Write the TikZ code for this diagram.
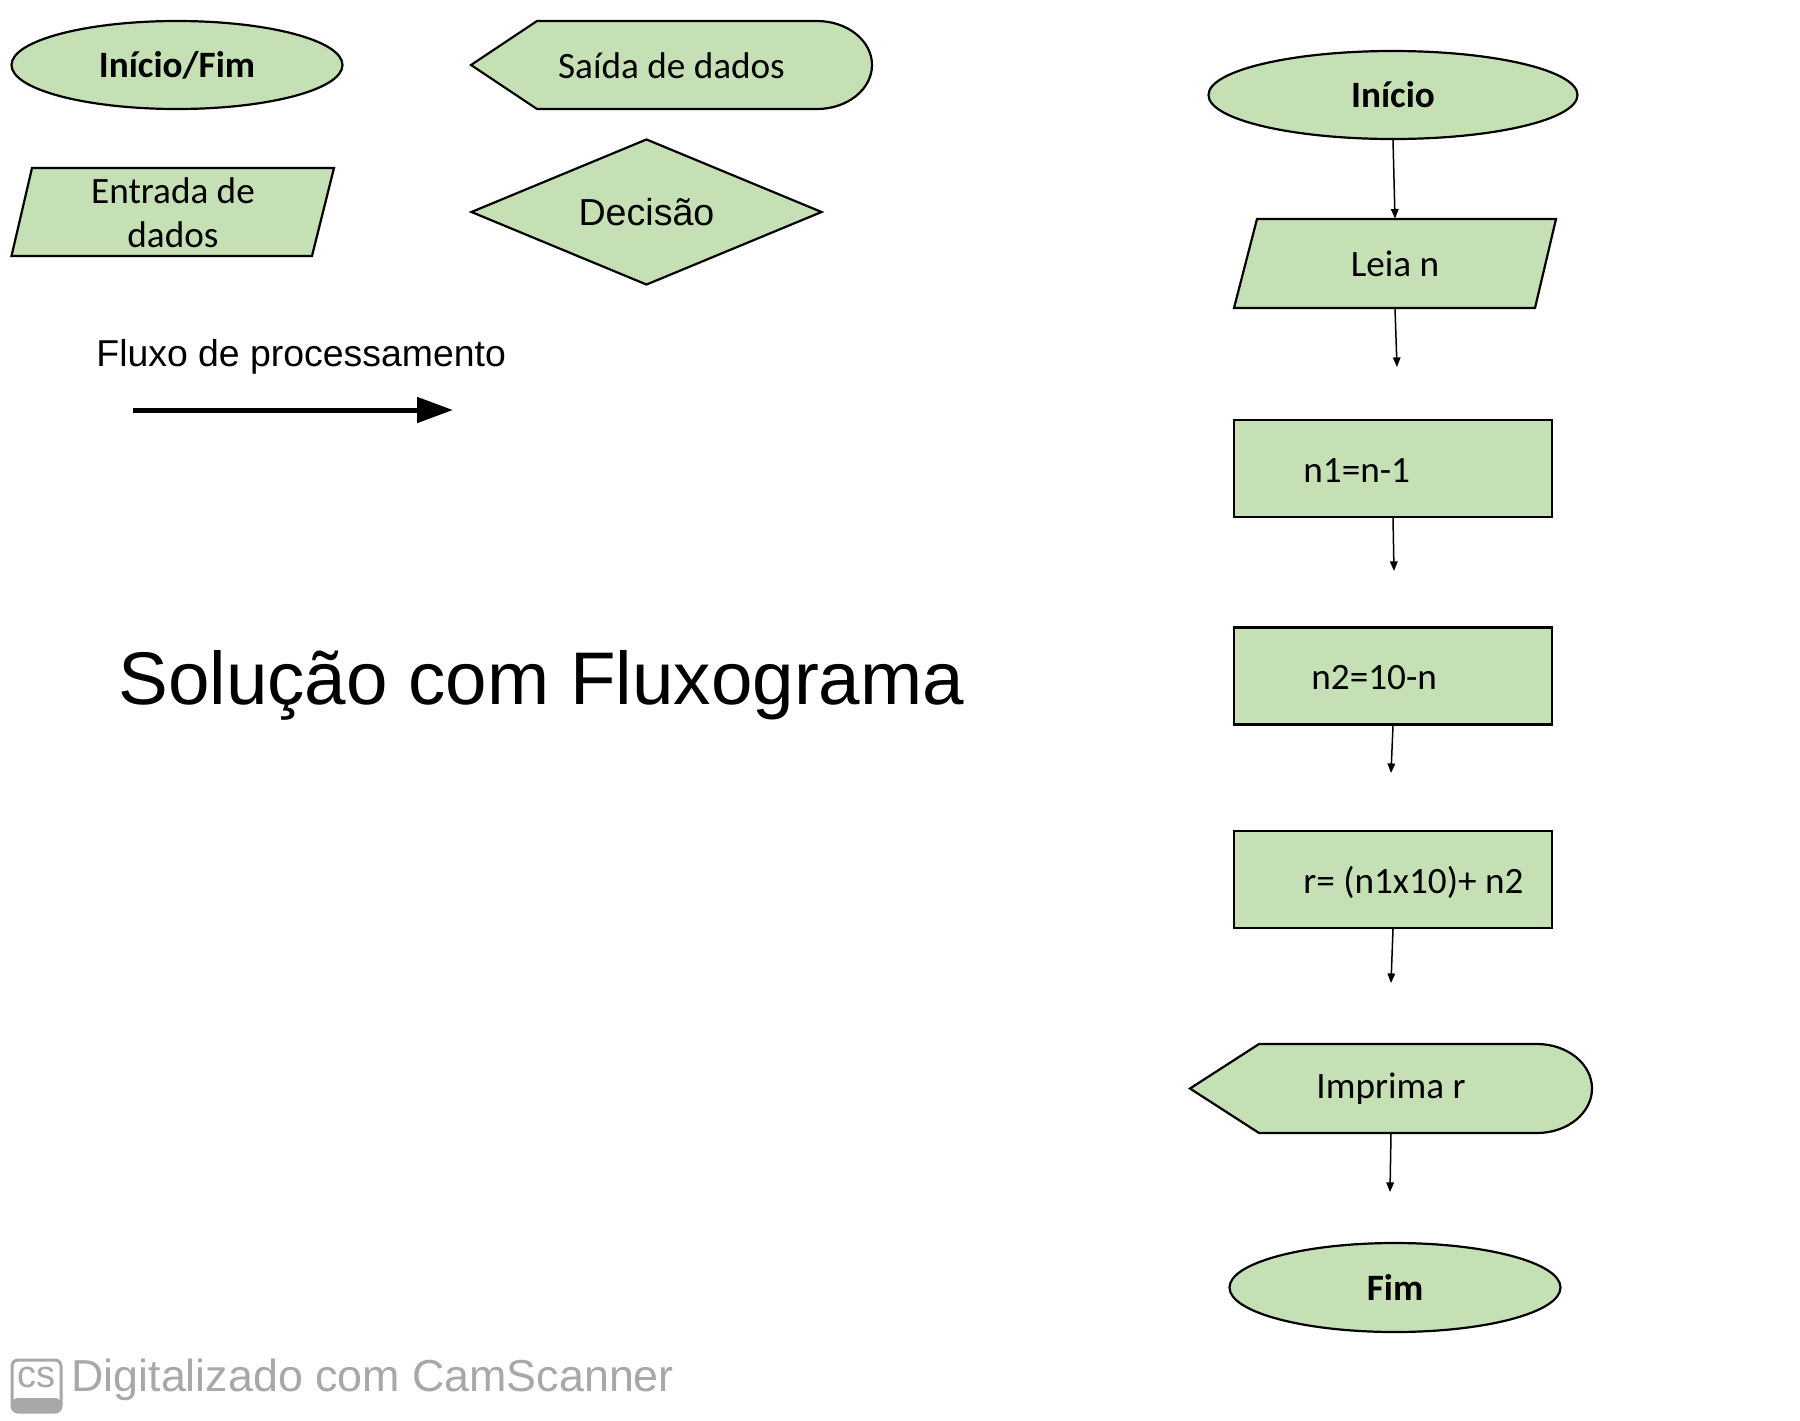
\documentclass[tikz,border=0pt]{standalone}
\usepackage{fontspec}
\setmainfont{Carlito}
\newfontfamily\arialf{Liberation Sans}
\usetikzlibrary{shapes.geometric,arrows.meta}
\definecolor{boxgreen}{HTML}{C5E0B4}
\definecolor{wmgray}{HTML}{A8A8A8}
\begin{document}
\begin{tikzpicture}[x=0.5pt,y=-0.5pt,
  shapeline/.style={draw=black,line width=1.1pt,fill=boxgreen},
  txt/.style={font=\fontsize{18.6pt}{22pt}\selectfont, inner sep=0pt},
  term/.style={shapeline,ellipse,inner sep=0pt,font=\bfseries\fontsize{18.6pt}{22pt}\selectfont},
  procbox/.style={shapeline,rectangle,minimum width=159pt,minimum height=48.5pt,inner sep=0pt},
  hold/.style={rectangle,inner sep=0pt},
  flow/.style={line width=0.75pt,-{Triangle[length=4.8pt,width=3.8pt]}}
]
\fill[white] (0,0) rectangle (1800,1420);
\useasboundingbox (0,0) rectangle (1800,1420);

% ---------- legend ----------
\node[term,minimum width=165.5pt,minimum height=44pt] (legterm) at (177,65) {Início/Fim};

\draw[shapeline] (471,65) -- (537,21) -- (817,21)
  arc[start angle=-90,end angle=90,x radius=55,y radius=44] -- (537,109) -- cycle;
\node[hold,txt] (legsaida) at (671.5,65.5) {Saída de dados};

\draw[shapeline] (32,168) -- (334,168) -- (312,256) -- (11.5,256) -- cycle;
\node[txt,align=center] (legent) at (173,213) {Entrada de\\dados};

\node[shapeline,diamond,aspect=2.4,minimum width=175.5pt,minimum height=73pt,inner sep=0pt,
  font=\arialf\fontsize{18.8pt}{22pt}\selectfont] (legdec) at (646.5,212) {Decisão};

\node[anchor=base west,inner sep=0pt,font=\arialf\fontsize{18.7pt}{22pt}\selectfont] (legflow) at (96,366) {Fluxo de processamento};
\coordinate (la) at (133,410);
\coordinate (lb) at (453,410);
\draw[line width=2.5pt,-{Triangle[length=18pt,width=12.5pt]}] (la) -- (lb);

% ---------- title ----------
\node[anchor=base west,inner sep=0pt,font=\arialf\fontsize{37.3pt}{44pt}\selectfont] (title) at (118,704) {Solução com Fluxograma};

% ---------- flowchart ----------
\node[term,minimum width=184.5pt,minimum height=44pt] (inicio) at (1393,95) {Início};

\draw[shapeline] (1257,219) -- (1556,219) -- (1535,308) -- (1234,308) -- cycle;
\node[hold,txt,minimum width=150pt,minimum height=44.5pt] (leia) at (1395,263.5) {Leia n};

\node[procbox] (n1) at (1393,468.5) {};
\node[txt,anchor=west] (n1t) at (1303,471) {n1=n-1};

\node[procbox] (n2) at (1393,676) {};
\node[txt,anchor=west] (n2t) at (1311,678) {n2=10-n};

\node[procbox] (rb) at (1393,879.5) {};
\node[txt,anchor=west] (rt) at (1303,882) {r= (n1x10)+ n2};

\draw[shapeline] (1190,1088.5) -- (1259,1044) -- (1537,1044)
  arc[start angle=-90,end angle=90,x radius=55,y radius=44.5] -- (1259,1133) -- cycle;
\node[hold,txt,minimum width=160pt,minimum height=44.5pt] (imp) at (1391,1088.5) {Imprima r};

\node[term,minimum width=165.5pt,minimum height=44.5pt] (fim) at (1395,1287.5) {Fim};

\coordinate (e1) at (1397,367);
\coordinate (e2) at (1394,571);
\coordinate (e3) at (1391,773);
\coordinate (e4) at (1391,983);
\coordinate (e5) at (1390,1192);
\draw[flow] (inicio.south) -- (leia.north);
\draw[flow] (leia.south) -- (e1);
\draw[flow] (n1.south) -- (e2);
\draw[flow] (n2.south) -- (e3);
\draw[flow] (rb.south) -- (e4);
\draw[flow] (imp.south) -- (e5);

% ---------- watermark ----------
\fill[wmgray,rounded corners=3pt] (12,1398) rectangle (61,1412);
\draw[wmgray,line width=1.5pt,rounded corners=3pt] (12,1360) rectangle (61,1412);
\node[font=\arialf\fontsize{19pt}{22pt}\selectfont,text=wmgray,inner sep=0pt] (cs) at (36.5,1377) {cs};
\node[anchor=base west,font=\arialf\fontsize{22.4pt}{26pt}\selectfont,text=wmgray,inner sep=0pt] (wm) at (71,1391) {Digitalizado com CamScanner};
\end{tikzpicture}
\end{document}
